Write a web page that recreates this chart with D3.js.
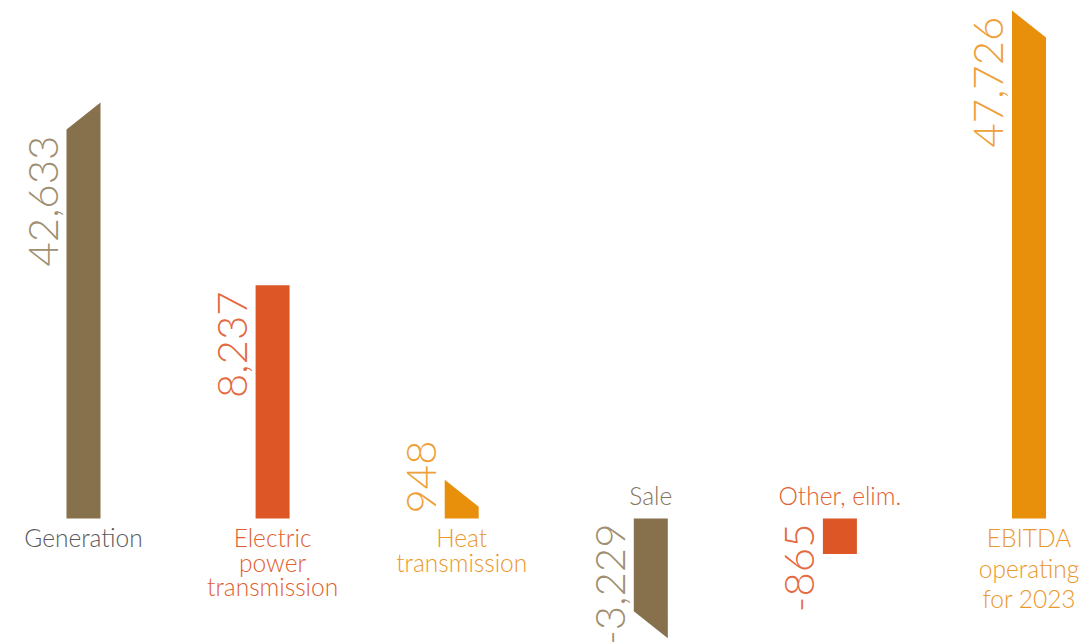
<!DOCTYPE html>
<html>
<head>
<meta charset="utf-8">
<script src="https://cdn.jsdelivr.net/npm/d3@7"></script>
<style>
  html, body { margin: 0; padding: 0; background: #ffffff; }
  svg { display: block; font-family: Lato, "Open Sans", sans-serif; }
</style>
</head>
<body>
<svg id="chart" width="1081" height="642"></svg>
<script>
// EBITDA bridge, million (operating, 2023)
const categories = ["Generation", "Electric power transmission", "Heat transmission", "Sale", "Other, elim.", "EBITDA operating for 2023"];
const labelLines = [["Generation"], ["Electric", "power", "transmission"], ["Heat", "transmission"], ["Sale"], ["Other, elim."], ["EBITDA", "operating", "for 2023"]];
const values = [42633, 8237, 948, -3229, -865, 47726];

// Styling per bar
const barColors = ["#86714c", "#dc5626", "#e8900c", "#86714c", "#dc5626", "#e8900c"];
const valueColors = ["#9f8f72", "#e46a42", "#eea13a", "#9f8f72", "#e46a42", "#eea13a"];
const nameColors = ["#5a5a5a", "#e0602f", "#eb982a", "#85745a", "#e0602f", "#eb982a"];
// Which edge of the cap is cut: +1 rises to the right, -1 falls to the right, 0 flat
const capDir = [1, 0, -1, 1, 0, -1];

const svg = d3.select("#chart");
const baseline = 518.5;
const barW = 34, cut = 27;

const x = d3.scalePoint()
  .domain(categories)
  .range([83.5, 1029]);

// Compressed value axis: small contributions stay readable next to the large ones
const y = d3.scaleLinear()
  .domain([-4000, -1000, 0, 1000, 4000, 10000, 40000, 50000])
  .range([baseline + 147, baseline + 41, baseline, baseline - 41, baseline - 147, baseline - 269, baseline - 368.4, baseline - 549]);

const fmt = d3.formatLocale({ decimal: ".", thousands: ",", grouping: [3], currency: ["", ""], minus: "-" }).format(",");

const data = categories.map((c, i) => ({
  cat: c, value: values[i], lines: labelLines[i],
  color: barColors[i], vColor: valueColors[i], nColor: nameColors[i], dir: capDir[i]
}));

function barPath(d) {
  const x0 = x(d.cat) - barW / 2, x1 = x(d.cat) + barW / 2;
  const yEnd = y(d.value);
  const s = d.value >= 0 ? 1 : -1;          // +1 bar grows up, -1 grows down
  // extreme on the right for dir +1, on the left for dir -1
  let yL = yEnd, yR = yEnd;
  if (d.dir === 1) yL = yEnd + s * cut;
  if (d.dir === -1) yR = yEnd + s * cut;
  return `M${x0},${baseline}L${x0},${yL}L${x1},${yR}L${x1},${baseline}Z`;
}

const g = svg.append("g");

g.selectAll("path.bar")
  .data(data)
  .join("path")
  .attr("class", "bar")
  .attr("d", barPath)
  .attr("fill", d => d.color);

// Rotated value labels on the left of each bar
const vl = g.selectAll("text.value")
  .data(data)
  .join("text")
  .attr("class", "value")
  .attr("font-size", 42)
  .attr("font-weight", 300)
  .attr("fill", d => d.vColor)
  .text(d => fmt(d.value));

vl.each(function (d) {
  const t = d3.select(this);
  const len = this.getComputedTextLength();
  const xb = x(d.cat) - barW / 2 - 9;
  let yy, anchor;
  if (d.value >= 0) {
    const leftTop = y(d.value) + (d.dir === 1 ? cut : 0);
    const h = baseline - leftTop;
    if (len + 6 > h) { anchor = "start"; yy = baseline - 5; }
    else { anchor = "end"; yy = leftTop + 6; }
  } else {
    anchor = "end"; yy = baseline + 5;
  }
  t.attr("text-anchor", anchor)
   .attr("transform", `translate(${xb},${yy}) rotate(-90)`);
});

// Category names: below the baseline for positive bars, above it for negative ones
const nl = g.selectAll("text.name")
  .data(data)
  .join("text")
  .attr("class", "name")
  .attr("text-anchor", "middle")
  .attr("fill", d => d.nColor)
  .attr("font-size", 24.5)
  .attr("font-weight", 300)
  .attr("x", d => x(d.cat))
  .attr("y", d => d.value >= 0 ? 547 : 505);

nl.selectAll("tspan")
  .data(d => d.lines.map((l, i) => ({ l, i, big: d.cat.startsWith("EBITDA"), cx: x(d.cat) })))
  .join("tspan")
  .attr("x", t => t.cx)
  .attr("dy", t => t.i === 0 ? 0 : (t.big ? 30.5 : 24.6))
  .text(t => t.l);
</script>
</body>
</html>
